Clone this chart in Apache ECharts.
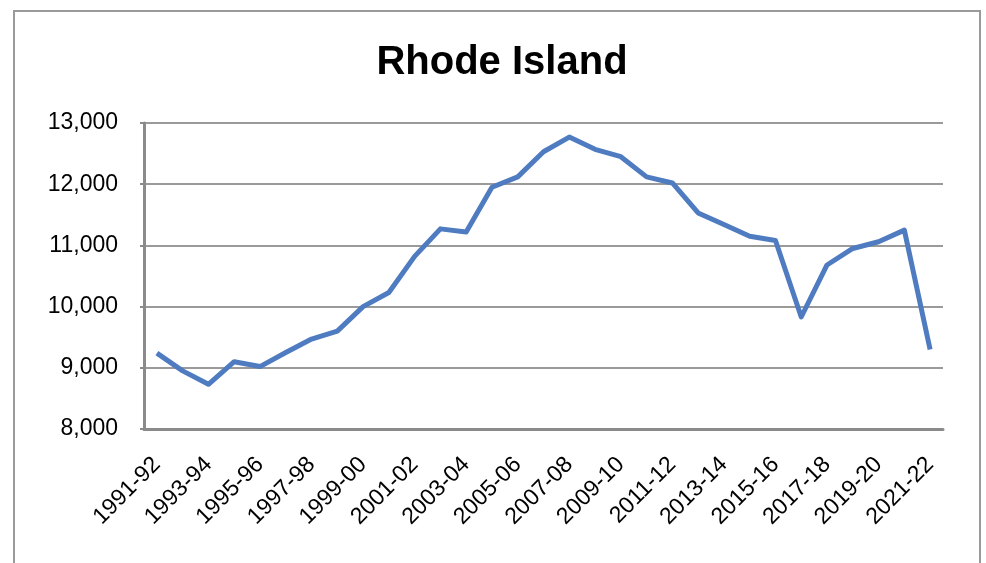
<!DOCTYPE html>
<html>
<head>
<meta charset="utf-8">
<script src="https://cdn.jsdelivr.net/npm/echarts@6/dist/echarts.min.js"></script>
<style>html,body{margin:0;padding:0;background:#fff}#c{width:986px;height:563px}</style>
</head>
<body>
<div id="c"></div>
<script>
const titleText = 'Rhode Island';
const categories = ['1991-92','1992-93','1993-94','1994-95','1995-96','1996-97','1997-98','1998-99','1999-00','2000-01','2001-02','2002-03','2003-04','2004-05','2005-06','2006-07','2007-08','2008-09','2009-10','2010-11','2011-12','2012-13','2013-14','2014-15','2015-16','2016-17','2017-18','2018-19','2019-20','2020-21','2021-22'];
const values = [9240,8950,8730,9100,9020,9250,9470,9600,10000,10230,10820,11270,11220,11950,12120,12530,12770,12570,12450,12120,12020,11530,11340,11150,11080,9830,10680,10950,11060,11250,9300];
const yMin = 8000, yMax = 13000, yStep = 1000;

const chart = echarts.init(document.getElementById('c'), null, {renderer:'canvas'});
chart.setOption({
  animation: false,
  backgroundColor: '#fff',
  title: {
    text: titleText, left: 497, top: 38, textAlign: 'center',
    textStyle: {fontFamily: 'Liberation Sans', fontWeight: 'bold', fontSize: 40, color: '#000'}
  },
  graphic: [{
    type: 'rect', shape: {x: 14, y: 11, width: 966, height: 570},
    style: {fill: 'none', stroke: '#9a9a9a', lineWidth: 2}, silent: true
  }],
  grid: {left: 144, right: 43, top: 123, bottom: 134, containLabel: false},
  xAxis: {
    type: 'category', data: categories, boundaryGap: true,
    axisLine: {show: true, lineStyle: {color: '#8a8a8a', width: 3}},
    axisTick: {show: false},
    axisLabel: {interval: 1, rotate: 45, margin: 32, fontFamily: 'Liberation Sans', fontSize: 23, color: '#000'},
    splitLine: {show: false}
  },
  yAxis: {
    type: 'value', min: yMin, max: yMax, interval: yStep,
    axisLine: {show: true, lineStyle: {color: '#8a8a8a', width: 3}},
    axisTick: {show: true, length: 4, lineStyle: {color: '#8a8a8a', width: 2}},
    axisLabel: {margin: 26, fontFamily: 'Liberation Sans', fontSize: 23, color: '#000',
      formatter: v => v.toLocaleString('en-US')},
    splitLine: {show: true, lineStyle: {color: '#9a9a9a', width: 2}}
  },
  series: [{
    type: 'line', data: values, symbol: 'none',
    lineStyle: {color: '#4f7cc1', width: 5, join: 'round'},
    itemStyle: {color: '#4f7cc1'}
  }]
});
</script>
</body>
</html>
